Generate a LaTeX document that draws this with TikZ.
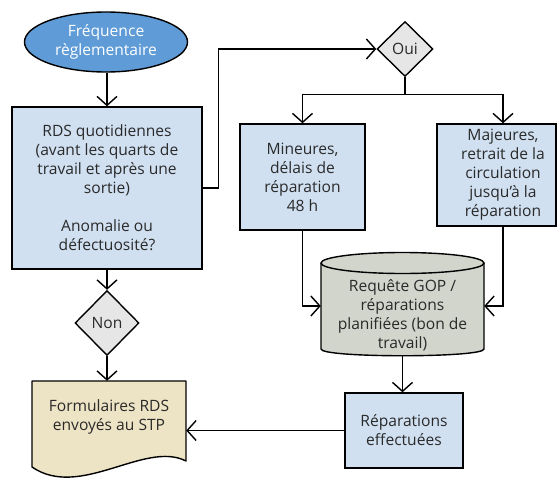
\documentclass[tikz,border=0pt]{standalone}
\usepackage{fontspec}
\setmainfont{Open Sans}
\usetikzlibrary{arrows.meta,shapes.geometric,calc}
\definecolor{termblue}{HTML}{5F9BD6}
\definecolor{boxblue}{HTML}{D0E0F1}
\definecolor{diagrey}{HTML}{E6E6E6}
\definecolor{doctan}{HTML}{EDE3C5}
\definecolor{cylgrey}{HTML}{D1D5CC}
\definecolor{txtc}{HTML}{2A2A2A}
\begin{document}
\begin{tikzpicture}[x=1pt,y=-1pt,
  txt/.style={font=\fontsize{15.6}{19}\selectfont, text=txtc, align=center, inner sep=0pt},
  lw/.style={line width=1.4pt},
  box/.style={draw=black, lw, fill=boxblue, txt},
  dia/.style={diamond, aspect=1, draw=black, lw, fill=diagrey, txt},
  conn/.style={draw=black, lw},
  arr/.style={draw=black, lw, -{Straight Barb[length=9pt,width=20pt,line width=1.4pt]}}
]
\useasboundingbox (0,0) rectangle (557,479);

% terminal
\node[ellipse, draw=black, lw, fill=termblue, txt, text=white, minimum width=163pt, minimum height=60pt] (freq) at (106,42) {Fréquence\\règlementaire};

% RDS box
\node[box, minimum width=190pt, minimum height=162pt] (rds) at (107,188)
  {RDS quotidiennes\\(avant les quarts de\\travail et après une\\sortie)\\[19pt]Anomalie ou\\défectuosité?};

% Non decision
\node[dia, minimum width=64pt, minimum height=65pt] (non) at (107,323) {Non};

% document shape
\path[fill=doctan, draw=black, lw, line join=round] (32,381) -- (186,381) -- (186,461)
  .. controls (145,440) and (80,500) .. (32,467) -- cycle;
\node[txt, minimum width=154pt, minimum height=72pt] (form) at (109,417) {Formulaires RDS\\envoyés au STP};

% Oui decision
\node[dia, minimum width=56pt, minimum height=55pt] (oui) at (405,49) {Oui};

% Mineures / Majeures
\node[box, minimum width=125pt, minimum height=106pt] (min) at (302.5,177) {Mineures,\\délais de\\réparation\\48 h};
\node[draw=black, lw, fill=boxblue, minimum width=119pt, minimum height=102pt, inner sep=0pt] (majbox) at (496.5,175) {};
\node[txt] (maj) at (503,175) {Majeures,\\retrait de la\\circulation\\jusqu’à la\\réparation};
\coordinate (majtop) at (maj |- majbox.north);
\coordinate (majbot) at (maj |- majbox.south);

% cylinder
\fill[cylgrey] (321,263) -- (321,349) .. controls (321,358) and (484,358) .. (484,349) -- (484,263) -- cycle;
\draw[lw] (321,263) -- (321,349) .. controls (321,358) and (484,358) .. (484,349) -- (484,263);
\draw[lw, fill=cylgrey] (402.5,263) ellipse [x radius=81.5, y radius=10.5];
\node[minimum width=163pt, minimum height=100pt, inner sep=0pt] (gop) at (402.5,306) {};
\node[txt] (goptxt) at (402.5,315) {Requête GOP /\\réparations\\planifiées (bon de\\travail)};

% Réparations effectuées
\node[box, minimum width=118pt, minimum height=75pt] (rep) at (404,430.5) {Réparations\\effectuées};

% connectors
\draw[arr] (rds.north |- freq.south) -- (rds.north);
\draw[arr] (rds.south) -- (non.north);
\draw[arr] (non.south) -- (non.south |- form.north);
\draw[arr] (rds.east) -- ++(16,0) |- (oui.west);
\draw[conn] (oui.south) -- ++(0,17) coordinate (split);
\draw[arr] (split) -| (min.north);
\draw[arr] (split) -| (majtop);
\draw[arr] (min.south) |- (gop.west);
\draw[arr] (majbot) |- (gop.east);
\draw[arr] (gop.south) -- (gop.south |- rep.north);
\draw[arr] (rep.west) -- (rep.west -| form.east);
\end{tikzpicture}
\end{document}
